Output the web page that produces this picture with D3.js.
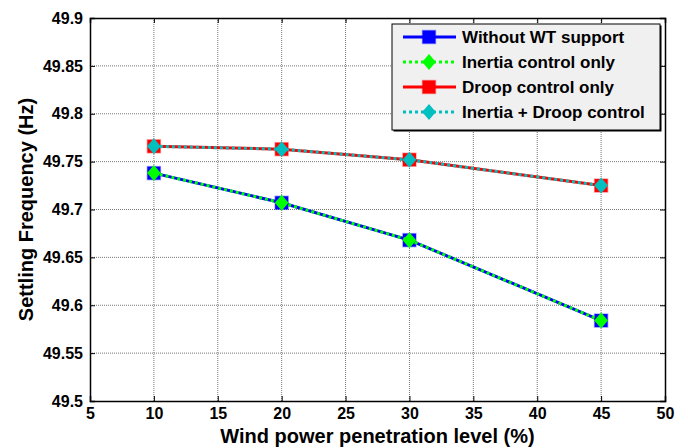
<!DOCTYPE html>
<html>
<head>
<meta charset="utf-8">
<script src="https://cdn.jsdelivr.net/npm/d3@7"></script>
<style>
body { margin: 0; background: #fff; }
text { font-family: "Liberation Sans", Arial, sans-serif; font-weight: bold; }
</style>
</head>
<body>
<script>
const levels = [10, 20, 30, 45];
const withoutWT = [49.738, 49.707, 49.668, 49.584];
const inertiaOnly = [49.738, 49.707, 49.668, 49.584];
const droopOnly = [49.766, 49.763, 49.752, 49.725];
const inertiaDroop = [49.766, 49.763, 49.752, 49.725];
const xTicks = [5, 10, 15, 20, 25, 30, 35, 40, 45, 50];
const yTicks = [49.5, 49.55, 49.6, 49.65, 49.7, 49.75, 49.8, 49.85, 49.9];

const series = [
  {name: "Without WT support", values: withoutWT, color: "#0000ff", dash: null, marker: "square"},
  {name: "Inertia control only", values: inertiaOnly, color: "#00ff00", dash: "3,3", marker: "diamond"},
  {name: "Droop control only", values: droopOnly, color: "#ff0000", dash: null, marker: "square"},
  {name: "Inertia + Droop control", values: inertiaDroop, color: "#00bfbf", dash: "3,3", marker: "diamond"}
];

const W = 688, H = 448;
const margin = {top: 18, right: 23, bottom: 47, left: 90};
const width = W - margin.left - margin.right;
const height = H - margin.top - margin.bottom;

const x = d3.scaleLinear().domain([5, 50]).range([0, width]);
const y = d3.scaleLinear().domain([49.5, 49.9]).range([height, 0]);

const svg = d3.select("body").append("svg")
  .attr("width", W)
  .attr("height", H);

const g = svg.append("g")
  .attr("transform", "translate(" + margin.left + "," + margin.top + ")");

// grid
g.selectAll(".gx").data(xTicks.slice(1, -1)).enter().append("line")
  .attr("x1", d => x(d)).attr("x2", d => x(d))
  .attr("y1", 0).attr("y2", height)
  .attr("stroke", "#777").attr("stroke-width", 1).attr("stroke-dasharray", "1,1");
g.selectAll(".gy").data(yTicks.slice(1, -1)).enter().append("line")
  .attr("x1", 0).attr("x2", width)
  .attr("y1", d => y(d)).attr("y2", d => y(d))
  .attr("stroke", "#777").attr("stroke-width", 1).attr("stroke-dasharray", "1,1");

// axes with inward ticks on all sides
const xAxis = d3.axisBottom(x).tickValues(xTicks).tickSize(-5).tickPadding(7).tickFormat(d3.format("d"));
const yAxis = d3.axisLeft(y).tickValues(yTicks).tickSize(-5).tickPadding(7).tickFormat(d => String(+d.toFixed(2)));

const gx = g.append("g").attr("transform", "translate(0," + height + ")").call(xAxis);
const gy = g.append("g").call(yAxis);
g.append("g").call(d3.axisTop(x).tickValues(xTicks).tickSize(-5).tickFormat(""));
g.append("g").attr("transform", "translate(" + width + ",0)")
  .call(d3.axisRight(y).tickValues(yTicks).tickSize(-5).tickFormat(""));

g.selectAll(".domain").attr("stroke", "#000").attr("stroke-width", 1.5);
g.selectAll(".tick line").attr("stroke", "#000");
[gx, gy].forEach(a => a.selectAll("text")
  .attr("fill", "#000")
  .style("font-size", "16px"));

// lines and markers
const line = d3.line()
  .x((d, i) => x(levels[i]))
  .y(d => y(d));

function marker(sel, type, color, cx, cy) {
  if (type === "square") {
    sel.append("rect")
      .attr("x", cx - 6.5).attr("y", cy - 6.5)
      .attr("width", 13).attr("height", 13)
      .attr("fill", color).attr("stroke", color).attr("stroke-opacity", 0.35).attr("stroke-width", 1.5);
  } else {
    sel.append("path")
      .attr("d", `M${cx},${cy - 8}L${cx + 6.8},${cy}L${cx},${cy + 8}L${cx - 6.8},${cy}Z`)
      .attr("fill", color);
  }
}

series.forEach(s => {
  g.append("path")
    .datum(s.values)
    .attr("d", line)
    .attr("fill", "none")
    .attr("stroke", s.color)
    .attr("stroke-width", 3)
    .attr("stroke-dasharray", s.dash);
  s.values.forEach((v, i) => marker(g, s.marker, s.color, x(levels[i]), y(v)));
});

// legend
const lg = svg.append("g");
const lx = 392, ly = 24, lw = 268, lh = 106;
lg.append("rect")
  .attr("x", lx + 1.5).attr("y", ly + 1.5).attr("width", lw).attr("height", lh)
  .attr("fill", "#000");
lg.append("rect")
  .attr("x", lx).attr("y", ly).attr("width", lw).attr("height", lh)
  .attr("fill", "#f0f0f0").attr("stroke", "#000").attr("stroke-width", 1);

series.forEach((s, i) => {
  const cy = ly + 13 + i * 25;
  lg.append("line")
    .attr("x1", lx + 11).attr("x2", lx + 64)
    .attr("y1", cy).attr("y2", cy)
    .attr("stroke", s.color).attr("stroke-width", 3)
    .attr("stroke-dasharray", s.dash);
  marker(lg, s.marker, s.color, lx + 37, cy);
  lg.append("text")
    .attr("x", lx + 70).attr("y", cy + 6)
    .text(s.name)
    .style("font-size", "17px")
    .attr("fill", "#000");
});

// axis titles
svg.append("text")
  .attr("x", margin.left + width / 2)
  .attr("y", 443)
  .attr("text-anchor", "middle")
  .style("font-size", "20px")
  .text("Wind power penetration level (%)");

svg.append("text")
  .attr("transform", "translate(33," + (margin.top + height / 2) + ") rotate(-90)")
  .attr("text-anchor", "middle")
  .style("font-size", "20px")
  .text("Settling Frequency (Hz)");
</script>
</body>
</html>
